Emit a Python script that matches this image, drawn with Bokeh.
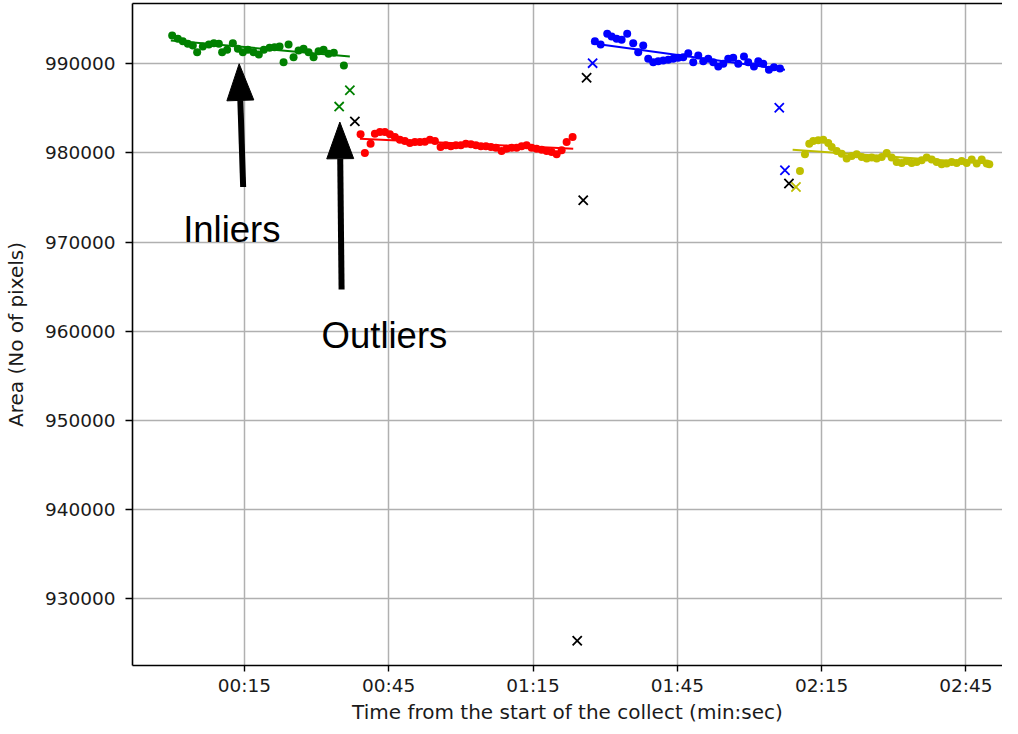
from bokeh.plotting import figure
from bokeh.models import Range1d, FixedTicker, BasicTickFormatter, LinearAxis, Label
from bokeh.embed import file_html
from bokeh.resources import INLINE

# ---------------- data ----------------
tick_seconds = [15, 45, 75, 105, 135, 165]
tick_labels = ["00:15", "00:45", "01:15", "01:45", "02:15", "02:45"]
y_ticks = [930000, 940000, 950000, 960000, 970000, 980000, 990000]

green_t = [0.0, 1.18, 2.21, 3.25, 4.29, 5.19, 6.37, 7.62, 8.66, 9.70, 10.38, 11.42,
           12.61, 13.65, 14.69, 15.73, 16.91, 18.01, 19.05, 20.24, 21.28, 22.32,
           23.15, 24.19, 25.23, 26.27, 27.31, 28.35, 29.39, 30.43, 31.47, 32.51,
           33.60, 35.69]
green_v = [993196, 992826, 992557, 992265, 992075, 991323, 991963, 992187, 992333,
           992265, 991323, 991593, 992333, 991705, 991323, 991593, 991323, 991065,
           991593, 991817, 991884, 991963, 990202, 992187, 990763, 991514, 991705,
           991323, 990763, 991436, 991593, 991144, 991256, 989832]
green_fit_t = [-0.28, 36.93]
green_fit_v = [992635, 990841]
green_out_t = [34.71, 36.93]
green_out_v = [985211, 987050]

red_t = [39.16, 40.05, 41.24, 42.13, 43.17, 44.21, 45.25, 46.29, 47.33, 48.37, 49.41,
         50.45, 51.49, 52.53, 53.57, 54.61, 55.79, 56.89, 57.93, 58.97, 60.01, 61.05,
         62.09, 63.13, 64.17, 65.21, 66.25, 67.29, 68.47, 69.51, 70.55, 71.59, 72.63,
         73.67, 74.71, 75.75, 76.79, 77.83, 78.87, 79.91, 80.95, 81.99, 83.23]
red_v = [982093, 979996, 981050, 982172, 982351, 982351, 982093, 981791, 981499,
         981342, 981118, 981230, 981230, 981275, 981499, 981342, 980669, 980860,
         980748, 980860, 980860, 981050, 980972, 980860, 980748, 980748, 980669,
         980602, 980221, 980490, 980602, 980602, 980748, 980860, 980602, 980490,
         980378, 980221, 980109, 979850, 980299, 981230, 981791]
red_fit_t = [39.01, 83.36]
red_fit_v = [981611, 980490]

blue_t = [87.87, 89.05, 90.43, 91.34, 92.38, 93.42, 94.58, 95.83, 96.87, 97.91, 98.95,
          99.99, 101.03, 102.07, 103.11, 104.15, 105.19, 106.23, 107.27, 108.31,
          109.35, 110.39, 111.43, 112.47, 113.51, 114.55, 115.58, 116.62, 117.66,
          118.85, 119.74, 120.93, 121.82, 122.86, 124.04, 125.08, 126.33]
blue_v = [992557, 992187, 993387, 993084, 992826, 992714, 993387, 992333, 991323,
          992075, 990583, 990202, 990314, 990393, 990471, 990583, 990695, 990763,
          991211, 990202, 990953, 990314, 990583, 990202, 989720, 990022, 990583,
          990695, 990022, 990841, 990202, 989720, 990314, 990022, 989350, 989641,
          989495]
blue_fit_t = [87.18, 127.37]
blue_fit_v = [992333, 989350]
blue_out_t = [87.39, 126.19, 127.37]
blue_out_v = [990090, 985088, 978056]

yellow_t = [130.49, 131.53, 132.42, 133.25, 134.29, 135.33, 136.37, 137.08, 138.12,
            139.16, 140.20, 141.24, 142.28, 143.32, 144.36, 145.40, 146.44, 147.48,
            148.52, 149.55, 150.59, 151.63, 152.67, 153.71, 154.75, 155.79, 156.83,
            157.87, 158.91, 159.95, 160.99, 162.03, 163.07, 164.11, 165.15, 166.19,
            167.23, 168.27, 169.31, 169.85]
yellow_v = [977978, 979851, 981050, 981342, 981421, 981499, 981118, 980669, 980221,
            979929, 979368, 979660, 979851, 979548, 979368, 979480, 979368, 979548,
            979996, 979480, 978987, 978875, 979099, 978875, 978987, 979178, 979480,
            979256, 978987, 978729, 978807, 978987, 978875, 979099, 978875, 979256,
            978807, 979256, 978807, 978729]
yellow_fit_t = [128.97, 169.64]
yellow_fit_v = [980378, 978807]
yellow_out_t = [129.66]
yellow_out_v = [976184]

black_out_t = [37.97, 84.19, 85.44, 86.14, 128.20]
black_out_v = [983551, 925232, 974692, 988452, 976565]

# ---------------- figure ----------------
W, H = 1002, 726
ML, MB, MT, MR = 130, 55, 3, 0
frame_w = W - ML - MR
frame_h = H - MT - MB
x0, x1 = -8.25, 172.59
y0, y1 = 922443, 996789
sx = (x1 - x0) / frame_w   # data units per px
sy = (y1 - y0) / frame_h

p = figure(width=W, height=H, output_backend="svg", toolbar_location=None,
           x_range=Range1d(x0, x1), y_range=Range1d(y0, y1),
           min_border_left=ML, min_border_right=MR, min_border_top=MT,
           min_border_bottom=MB)
p.outline_line_color = None
p.background_fill_color = "white"
p.border_fill_color = "white"

FONT = "DejaVu Sans"
FS = "18.5px"
FSL = "20px"
TXT = "#1a1a1a"

for ax in (p.xaxis[0], p.yaxis[0]):
    ax.axis_line_color = "black"
    ax.axis_line_width = 1.6
    ax.major_tick_line_color = "black"
    ax.major_tick_line_width = 1.4
    ax.major_tick_out = 7
    ax.major_tick_in = 0
    ax.minor_tick_out = 0
    ax.minor_tick_in = 0
    ax.major_label_text_font = FONT
    ax.major_label_text_font_size = FS
    ax.major_label_text_color = TXT
    ax.axis_label_text_font = FONT
    ax.axis_label_text_font_size = FSL
    ax.axis_label_text_font_style = "normal"
    ax.axis_label_text_color = TXT

p.xaxis.ticker = FixedTicker(ticks=tick_seconds)
p.xaxis.major_label_overrides = {t: lab for t, lab in zip(tick_seconds, tick_labels)}
p.xaxis.axis_label = "Time from the start of the collect (min:sec)"
p.xaxis.major_tick_out = 6
p.xaxis.major_label_standoff = 3
p.xaxis.axis_label_standoff = 1

p.yaxis.ticker = FixedTicker(ticks=y_ticks)
p.yaxis.formatter = BasicTickFormatter(use_scientific=False)
p.yaxis.axis_label = "Area (No of pixels)"
p.yaxis.major_label_standoff = 10
p.yaxis.axis_label_standoff = 14

top = LinearAxis(ticker=FixedTicker(ticks=[]), major_label_text_font_size="0px",
                 major_tick_out=0, major_tick_in=0, minor_tick_out=0, minor_tick_in=0,
                 axis_line_color="black", axis_line_width=1.6, major_label_standoff=0)
p.add_layout(top, "above")

p.xgrid.ticker = FixedTicker(ticks=tick_seconds)
p.ygrid.ticker = FixedTicker(ticks=y_ticks)
for g in (p.xgrid[0], p.ygrid[0]):
    g.grid_line_color = "#b0b0b0"
    g.grid_line_width = 1.5

DOT = 8
XS = 13
series = [
    (green_t, green_v, green_fit_t, green_fit_v, green_out_t, green_out_v, "#008000"),
    (red_t, red_v, red_fit_t, red_fit_v, [], [], "#ff0000"),
    (blue_t, blue_v, blue_fit_t, blue_fit_v, blue_out_t, blue_out_v, "#0000ff"),
    (yellow_t, yellow_v, yellow_fit_t, yellow_fit_v, yellow_out_t, yellow_out_v, "#bfbf00"),
]
for t, v, ft, fv, ot, ov, c in series:
    p.scatter(t, v, size=DOT, color=c, line_width=0)
    p.line(ft, fv, line_color=c, line_width=2)
    if ot:
        p.scatter(ot, ov, marker="x", size=XS, line_color=c, line_width=1.8)
p.scatter(black_out_t, black_out_v, marker="x", size=XS, line_color="black", line_width=1.8)

# ---------------- annotations ----------------
def arrow(tail, tip, head_len=37, head_w=27, shaft_w=6):
    dxp = (tail[0] - tip[0]) / sx
    dyp = (tail[1] - tip[1]) / sy
    n = (dxp ** 2 + dyp ** 2) ** 0.5
    ux, uy = dxp / n, dyp / n
    bx = tip[0] + ux * head_len * sx
    by = tip[1] + uy * head_len * sy
    px_, py_ = -uy, ux
    p.segment(x0=[tail[0]], y0=[tail[1]], x1=[bx], y1=[by], line_color="black",
              line_width=shaft_w)
    p.patch([bx + px_ * head_w / 2 * sx, tip[0], bx - px_ * head_w / 2 * sx],
            [by + py_ * head_w / 2 * sy, tip[1], by - py_ * head_w / 2 * sy],
            fill_color="black", line_color="black", line_width=1)

arrow((14.75, 976183), (13.92, 990022))
arrow((35.21, 964676), (34.85, 983473))

p.add_layout(Label(x=2.28, y=971440, text="Inliers", text_font="Liberation Sans",
                   text_font_size="36.5px", text_color="black",
                   text_baseline="alphabetic"))
p.add_layout(Label(x=31.05, y=959473, text="Outliers", text_font="Liberation Sans",
                   text_font_size="36.5px", text_color="black",
                   text_baseline="alphabetic"))

open("out.html", "w").write(file_html(p, INLINE))
